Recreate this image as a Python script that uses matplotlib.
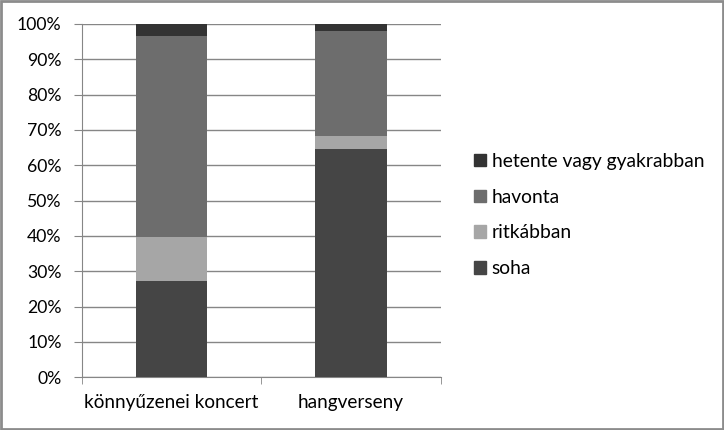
import matplotlib
matplotlib.use('Agg')
import matplotlib.pyplot as plt
from matplotlib.patches import Rectangle, Patch

kategoriak = ['könnyűzenei koncert', 'hangverseny']
soha = [27.3, 64.6]
ritkabban = [12.4, 3.7]
havonta = [57.0, 29.8]
hetente = [3.3, 1.9]

sorozatok = [
    ('soha', soha, '#454545'),
    ('ritkábban', ritkabban, '#a6a6a6'),
    ('havonta', havonta, '#6d6d6d'),
    ('hetente vagy gyakrabban', hetente, '#333333'),
]

plt.rcParams['font.family'] = ['Lato', 'DejaVu Sans']

fig = plt.figure(figsize=(7.24, 4.30), dpi=100)
ax = fig.add_axes([81.7 / 724, 52.7 / 430, 359 / 724, 353.3 / 430])

x = list(range(len(kategoriak)))
alja = [0.0] * len(kategoriak)
for nev, ertekek, szin in sorozatok:
    ax.bar(x, ertekek, width=0.4, bottom=alja, color=szin, label=nev, zorder=3)
    alja = [a + b for a, b in zip(alja, ertekek)]

ax.set_xlim(-0.5, 1.5)
ax.set_ylim(0, 100)
ax.set_yticks(range(0, 101, 10))
ax.set_yticklabels([f'{v}%' for v in range(0, 101, 10)], fontsize=12.7)
ax.set_xticks(x)
ax.set_xticklabels(kategoriak, fontsize=13.7)
ax.set_xticks([-0.5, 0.5, 1.5], minor=True)
ax.tick_params(axis='x', which='major', length=0, pad=12)
ax.tick_params(axis='x', which='minor', length=5, color='#868686', direction='out')
ax.tick_params(axis='y', length=5.5, color='#868686', pad=9)
ax.yaxis.grid(True, color='#868686', linewidth=1, zorder=0)
ax.set_axisbelow(True)

for s in ['top', 'right']:
    ax.spines[s].set_visible(False)
for s in ['left', 'bottom']:
    ax.spines[s].set_color('#868686')

fogantyuk = [Patch(color=szin, label=nev) for nev, _, szin in reversed(sorozatok)]
fig.legend(handles=fogantyuk, loc='center left', bbox_to_anchor=(474 / 724, 0.5),
           frameon=False, fontsize=13.9, borderpad=0, borderaxespad=0,
           handlelength=0.62, handleheight=0.62, handletextpad=0.3, labelspacing=0.97)

fig.patches.append(Rectangle((0.0015, 0.0025), 0.997, 0.995, transform=fig.transFigure,
                             fill=False, edgecolor='#8c8c8c', linewidth=2))

fig.savefig('out.png', dpi=100)
